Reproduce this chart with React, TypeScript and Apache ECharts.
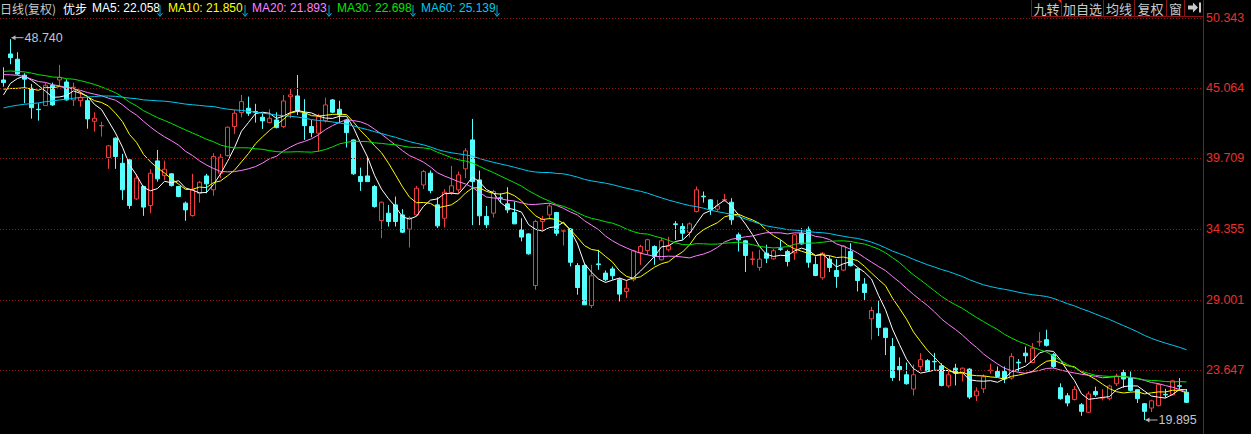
import React, { useEffect, useRef } from 'react';
import * as echarts from 'echarts';

// Closes of the 59 sessions before the visible window (estimated from where the MA lines start)
const priorCloses = [
  40.2, 40.9, 41.3, 40.6, 40.1, 39.8, 40.5, 41.2, 41.0, 40.4, 40.7, 41.1, 40.3, 39.9, 40.6,
  41.4, 41.0, 40.5, 40.8, 41.3, 40.9, 40.2, 40.6, 41.1, 41.5, 40.8, 40.4, 40.9, 41.2, 41.6,
  46.4, 47.2, 46.7, 46.3, 47.0, 47.5, 46.8, 46.6, 47.1, 46.4,
  47.5, 46.9, 47.3, 47.8, 47.0, 46.6, 47.2, 47.6, 46.9, 46.7,
  46.8, 46.0, 45.2, 44.6, 44.3, 42.95, 44.3, 44.75, 45.15,
];

const opens = [
  45.65, 47.62, 47.22, 46.01, 45.02, 43.43, 43.71, 45.25, 45.65, 45.5,
  44.14, 44.08, 44.08, 42.52, 42.17, 39.77, 41.24, 39.34, 39.6, 36.64,
  37.58, 36.14, 39.52, 38.41, 38.54, 37.58, 36.32, 35.38, 37.07, 38.38,
  37.33, 38.59, 39.92, 42.12, 43.18, 43.51, 43.26, 42.83, 42.42, 42.62,
  42.12, 44.38, 44.44, 43.13, 42.12, 41.62, 42.57, 44.14, 43.43, 42.62,
  41.11, 38.34, 38.38, 37.58, 35.0, 35.56, 36.19, 35.43, 34.35, 35.43,
  37.7, 38.59, 36.19, 35.18, 37.12, 37.33, 38.92, 41.11, 38.08, 35.31,
  35.56, 36.72, 36.27, 35.61, 34.3, 33.99, 30.08, 34.93, 35.43, 35.61,
  34.2, 34.36, 31.6, 31.6, 28.57, 31.72, 31.02, 31.34, 30.52, 29.63,
  30.52, 32.59, 32.74, 33.04, 32.03, 32.79, 34.75, 34.55, 34.11, 35.68,
  36.85, 36.57, 35.86, 36.55, 36.39, 33.92, 33.47, 32.05, 31.45, 32.53,
  32.1, 32.86, 32.66, 32.56, 34.04, 34.35, 31.67, 30.67, 32.08, 31.22,
  31.25, 32.66, 31.34, 30.19, 27.56, 27.94, 26.85, 25.46, 23.95, 23.32,
  22.24, 23.95, 24.39, 24.34, 24.0, 22.48, 23.82, 23.44, 23.75, 21.73,
  22.26, 23.62, 23.57, 23.57, 23.07, 24.27, 24.96, 24.25, 25.8, 25.98,
  24.84, 22.34, 21.73, 21.45, 21.05, 20.48, 22.06, 21.55, 21.51, 22.64,
  23.49, 23.07, 22.19, 21.13, 20.8, 20.98, 21.84, 21.8, 22.49, 21.99,
];
const closes = [
  45.45, 47.34, 46.1, 45.71, 43.55, 43.4, 45.25, 43.76, 45.85, 44.14,
  45.1, 44.31, 42.7, 42.75, 42.2, 40.66, 39.85, 37.33, 36.14, 38.21,
  36.02, 38.59, 38.16, 38.89, 37.65, 36.82, 35.81, 37.33, 37.9, 37.78,
  39.85, 39.8, 42.07, 43.13, 44.01, 43.13, 43.2, 42.55, 42.75, 42.04,
  44.06, 44.52, 43.33, 42.19, 41.66, 42.87, 43.76, 43.21, 43.0, 41.66,
  38.54, 37.95, 37.95, 36.06, 36.39, 34.93, 34.93, 34.12, 35.19, 37.45,
  38.71, 37.27, 34.6, 37.15, 37.63, 38.46, 40.28, 37.95, 35.36, 34.68,
  37.2, 36.7, 35.81, 34.75, 33.75, 32.48, 34.93, 35.1, 36.11, 34.04,
  34.22, 31.84, 29.93, 28.62, 30.82, 31.66, 30.52, 30.82, 29.43, 29.88,
  32.71, 33.04, 33.55, 32.28, 33.47, 33.09, 34.7, 34.04, 34.75, 37.33,
  36.8, 35.86, 36.11, 36.6, 35.06, 33.54, 32.36, 32.1, 32.08, 32.15,
  32.71, 32.82, 31.9, 33.92, 33.23, 31.84, 30.84, 32.53, 31.45, 30.77,
  33.07, 31.58, 30.46, 29.55, 28.19, 26.91, 26.14, 23.11, 23.7, 22.64,
  23.32, 24.46, 23.63, 24.3, 22.51, 23.32, 23.44, 23.82, 21.63, 22.09,
  23.17, 23.67, 23.19, 23.0, 24.71, 24.22, 24.76, 25.33, 25.85, 25.55,
  23.95, 21.51, 21.18, 22.21, 20.55, 21.87, 21.81, 21.6, 22.47, 23.22,
  23.0, 22.14, 21.51, 20.55, 21.35, 22.57, 21.8, 22.86, 22.45, 21.23,
];
const lows = [
  45.14, 46.84, 46.03, 43.89, 42.72, 42.57, 43.68, 43.68, 45.14, 44.08,
  43.68, 43.63, 41.96, 41.74, 41.36, 38.92, 38.92, 36.57, 35.89, 36.57,
  35.36, 35.56, 37.95, 38.08, 37.58, 36.77, 34.98, 35.3, 36.36, 37.07,
  36.89, 38.21, 39.85, 41.56, 42.82, 42.93, 42.42, 41.94, 42.37, 41.99,
  41.99, 42.75, 43.0, 41.11, 41.31, 40.22, 42.42, 43.13, 42.37, 40.53,
  38.46, 37.25, 37.95, 35.98, 33.67, 34.55, 34.55, 34.05, 32.96, 35.36,
  37.38, 37.07, 34.43, 34.47, 36.94, 37.07, 38.21, 34.65, 34.65, 34.43,
  35.23, 36.32, 35.56, 34.73, 33.42, 32.41, 29.76, 34.25, 35.1, 33.84,
  33.11, 31.53, 29.38, 28.62, 28.37, 31.27, 30.39, 30.52, 28.87, 29.13,
  30.39, 31.65, 32.41, 31.65, 31.98, 32.66, 33.54, 33.54, 33.72, 35.63,
  36.36, 35.43, 35.68, 36.44, 34.68, 32.66, 31.1, 31.65, 31.2, 31.78,
  32.03, 32.71, 31.53, 32.03, 33.17, 31.43, 30.79, 30.52, 31.1, 29.91,
  31.17, 31.53, 29.63, 28.94, 25.98, 26.26, 24.81, 22.86, 22.86, 22.57,
  21.75, 23.65, 23.55, 23.7, 22.44, 22.34, 22.51, 22.81, 21.48, 21.33,
  21.94, 23.4, 23.19, 22.69, 22.95, 23.57, 24.25, 24.2, 25.46, 25.46,
  23.82, 21.43, 20.93, 21.38, 20.21, 20.43, 21.66, 21.38, 21.38, 22.47,
  22.34, 22.06, 21.18, 19.895, 20.5, 20.93, 21.58, 21.76, 22.11, 21.18,
];
const highs = [
  46.61, 48.74, 47.75, 46.16, 45.35, 43.89, 45.42, 45.45, 46.79, 45.7,
  45.45, 44.77, 44.34, 43.2, 42.49, 40.73, 41.31, 40.05, 39.65, 38.51,
  37.65, 38.89, 40.35, 39.54, 38.59, 37.63, 36.44, 38.54, 38.0, 38.54,
  40.1, 40.05, 42.12, 43.38, 44.51, 44.39, 43.84, 43.13, 43.43, 43.2,
  44.51, 44.97, 46.03, 44.19, 42.62, 43.08, 44.31, 44.21, 44.08, 42.7,
  41.16, 39.01, 39.8, 37.7, 36.44, 36.19, 36.82, 35.86, 35.31, 37.63,
  38.84, 38.79, 36.77, 37.38, 39.14, 38.71, 40.48, 42.7, 38.79, 36.11,
  37.33, 37.07, 37.53, 36.44, 35.18, 34.04, 35.06, 35.36, 36.32, 35.66,
  34.3, 34.43, 31.78, 31.78, 31.65, 32.79, 31.22, 31.52, 30.64, 30.46,
  32.79, 33.17, 33.62, 33.12, 33.7, 33.77, 34.96, 34.8, 34.86, 37.58,
  37.2, 36.62, 36.57, 37.02, 36.7, 34.09, 33.54, 32.66, 32.79, 33.17,
  32.86, 33.52, 32.79, 33.97, 34.43, 34.55, 32.28, 32.61, 32.33, 32.08,
  33.14, 33.29, 31.44, 30.64, 28.47, 28.93, 26.88, 26.1, 24.63, 24.25,
  24.09, 24.96, 24.51, 24.98, 24.2, 23.7, 24.15, 23.87, 23.82, 22.37,
  23.34, 24.15, 23.95, 23.95, 24.96, 24.51, 25.46, 25.72, 26.55, 26.73,
  24.96, 22.67, 21.94, 22.47, 21.18, 22.06, 22.42, 22.24, 22.57, 23.4,
  23.7, 23.57, 22.24, 21.18, 21.43, 22.69, 22.26, 22.93, 23.07, 22.24,
];

const priceLevels = [50.343, 45.064, 39.709, 34.355, 29.001, 23.647];
const axisMin = 19.895;
const axisMax = 50.343;
const blankSlots = 2;

const maNames = ['MA5', 'MA10', 'MA20', 'MA30', 'MA60'];
const maPeriods = [5, 10, 20, 30, 60];
const maLegendValues = ['22.058', '21.850', '21.893', '22.698', '25.139'];
const maColors = ['#ffffff', '#ffff00', '#ff80ff', '#00e600', '#00c8f0'];

const headerTitle = '日线(复权)';
const stockName = '优步';
const buttonLabels = ['九转', '加自选', '均线', '复权', '窗'];

const UP = '#f03c3c';
const DOWN = '#54ffff';
const GRID_RED = '#8c1414';
const FONT = '"Liberation Sans", Arial, "Noto Sans CJK SC", sans-serif';
const CJK = '"Noto Sans CJK SC", "Liberation Sans", sans-serif';

function movingAverage(period: number): (number | null)[] {
  const all = priorCloses.concat(closes);
  return closes.map((_, i) => {
    const end = priorCloses.length + i + 1;
    const start = end - period;
    if (start < 0) return null;
    let s = 0;
    for (let j = start; j < end; j++) s += all[j];
    return +(s / period).toFixed(3);
  });
}

export default function App() {
  const ref = useRef<HTMLDivElement>(null);
  useEffect(() => {
    if (!ref.current) return;
    const chart = echarts.init(ref.current, undefined, { renderer: 'svg' });
    const categories = closes
      .map((_, i) => `D${i + 1}`)
      .concat(Array.from({ length: blankSlots }, (_, i) => `blank${i + 1}`));
    const ohlc = closes.map((c, i) => [opens[i], c, lows[i], highs[i]]);

    const maSeries = maPeriods.map((p, k) => ({
      type: 'line',
      name: maNames[k],
      data: movingAverage(p),
      symbol: 'none',
      silent: true,
      lineStyle: { width: 1, color: maColors[k] },
      z: 3,
    }));

    chart.setOption({
      animation: false,
      backgroundColor: '#000000',
      grid: { left: 0, right: 47, top: 18, bottom: 14, containLabel: false },
      xAxis: {
        type: 'category',
        data: categories,
        boundaryGap: true,
        axisLine: { show: false },
        axisTick: { show: false },
        axisLabel: { show: false },
        splitLine: { show: false },
      },
      yAxis: {
        type: 'value',
        position: 'right',
        min: axisMin,
        max: axisMax,
        axisLine: { show: false },
        axisTick: { show: false },
        axisLabel: { show: false },
        splitLine: { show: false },
      },
      series: [
        {
          type: 'candlestick',
          data: ohlc,
          barWidth: 4,
          silent: true,
          itemStyle: {
            color: '#000000',
            color0: DOWN,
            borderColor: UP,
            borderColor0: DOWN,
            borderWidth: 1,
          },
          markLine: {
            silent: true,
            symbol: ['none', 'none'],
            animation: false,
            lineStyle: { color: GRID_RED, type: [1, 2], width: 1 },
            label: {
              show: true,
              position: 'end',
              distance: 2,
              color: '#e8302c',
              fontSize: 12.5,
              fontFamily: FONT,
            },
            data: priceLevels.map((v) => ({
              yAxis: v,
              label: { formatter: v.toFixed(3) },
            })),
          },
          z: 2,
        },
        ...maSeries,
      ],
    });

    // extreme-point annotations placed through the chart's own scales
    const hiIdx = highs.indexOf(Math.max(...highs));
    const loIdx = lows.indexOf(Math.min(...lows));
    const hp = chart.convertToPixel({ gridIndex: 0 }, [hiIdx, highs[hiIdx]]) as number[];
    const lp = chart.convertToPixel({ gridIndex: 0 }, [loIdx, lows[loIdx]]) as number[];
    const annot = (px: number, py: number, txt: string) => [
      { type: 'line', shape: { x1: px + 1, y1: py, x2: px + 13, y2: py }, style: { stroke: '#b8b8b8', lineWidth: 1 } },
      { type: 'polygon', shape: { points: [[px + 1, py], [px + 5, py - 2.5], [px + 5, py + 2.5]] }, style: { fill: '#b8b8b8' } },
      { type: 'text', x: px + 14, y: py, style: { text: txt, fill: '#c4c4cc', font: `12.5px ${FONT}`, textVerticalAlign: 'middle' } },
    ];

    const header: any[] = [];
    header.push({ type: 'text', x: 0, y: 8, style: { text: headerTitle, fill: '#c8c8c8', font: `12px ${CJK}`, textVerticalAlign: 'middle' } });
    header.push({ type: 'text', x: 63, y: 8, style: { text: stockName, fill: '#ffffff', font: `12px ${CJK}`, textVerticalAlign: 'middle' } });
    const maX = [92, 168, 252, 337, 421];
    const arrowX = [157, 242, 326, 410, 494];
    maNames.forEach((n, k) => {
      header.push({ type: 'text', x: maX[k], y: 8, style: { text: `${n}: ${maLegendValues[k]}`, fill: maColors[k], font: `12px ${FONT}`, textVerticalAlign: 'middle' } });
      const ax = arrowX[k] + 3;
      header.push({ type: 'line', shape: { x1: ax, y1: 5, x2: ax, y2: 16 }, style: { stroke: '#00a8e8', lineWidth: 1 } });
      header.push({ type: 'polyline', shape: { points: [[ax - 2.5, 13], [ax, 16.5], [ax + 2.5, 13]] }, style: { stroke: '#00a8e8', lineWidth: 1, fill: 'none' } });
    });

    const boxX = [1031, 1061, 1103, 1134, 1166, 1184, 1203];
    buttonLabels.forEach((b, k) => {
      header.push({ type: 'rect', shape: { x: boxX[k] + 0.5, y: -1, width: boxX[k + 1] - boxX[k], height: 17.5 }, style: { fill: '#000', stroke: GRID_RED, lineWidth: 1 } });
      header.push({ type: 'text', x: (boxX[k] + boxX[k + 1]) / 2 + 0.5, y: 8, style: { text: b, fill: '#c8c8c8', font: `13px ${CJK}`, textAlign: 'center', textVerticalAlign: 'middle' } });
    });
    header.push({ type: 'rect', shape: { x: 1184.5, y: -1, width: 19, height: 17.5 }, style: { fill: '#000', stroke: GRID_RED, lineWidth: 1 } });
    header.push({ type: 'polygon', shape: { points: [[1188, 5.5], [1193, 5.5], [1193, 2.5], [1198, 7.5], [1193, 12.5], [1193, 9.5], [1188, 9.5]] }, style: { fill: '#c8c8c8' } });
    header.push({ type: 'rect', shape: { x: 1199, y: 2.5, width: 2, height: 10 }, style: { fill: '#c8c8c8' } });
    header.push({ type: 'polygon', shape: { points: [[1058, 0], [1061, 0], [1061, 3]] }, style: { fill: '#ff2020' } });
    header.push({ type: 'line', shape: { x1: 1203.5, y1: 0, x2: 1203.5, y2: 434 }, style: { stroke: GRID_RED, lineWidth: 1 } });

    chart.setOption({
      graphic: [
        ...header,
        ...annot(hp[0], hp[1] - 1.5, highs[hiIdx].toFixed(3)),
        ...annot(lp[0], lp[1], lows[loIdx].toFixed(3)),
      ].map((g) => ({ silent: true, ...g })),
    });

    return () => chart.dispose();
  }, []);
  return <div ref={ref} style={{ position: 'fixed', left: 0, top: 0, width: 1251, height: 434 }} />;
}
